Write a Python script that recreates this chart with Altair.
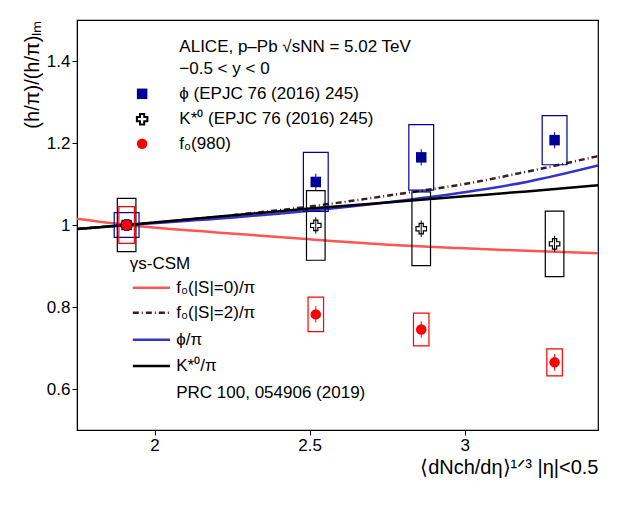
import altair as alt
import pandas as pd

# measured points
x_pts = [1.91, 2.52, 2.86, 3.29]
phi = [1.0, 1.105, 1.165, 1.207]
phi_sys = [0.03, 0.072, 0.08, 0.06]
kstar = [1.0, 0.999, 0.991, 0.954]
kstar_sys = [0.065, 0.085, 0.09, 0.08]
f0 = [1.0, 0.782, 0.745, 0.665]
f0_sys = [0.045, 0.042, 0.04, 0.033]
stat = [0.01, 0.02, 0.02, 0.02]

# model curves (gamma_s-CSM)
x_curve = [1.75, 1.91, 2.2, 2.5, 2.8, 3.0, 3.2, 3.43]
f0_s0 = [1.015, 1.0, 0.982, 0.965, 0.95, 0.943, 0.937, 0.931]
f0_s2 = [0.99, 1.0, 1.02, 1.045, 1.077, 1.1, 1.13, 1.168]
phi_c = [0.99, 1.0, 1.015, 1.035, 1.06, 1.08, 1.105, 1.145]
kstar_c = [0.99, 1.0, 1.02, 1.04, 1.058, 1.07, 1.082, 1.097]

XS = alt.Scale(domain=[1.75, 3.43], nice=False)
YS = alt.Scale(domain=[0.5, 1.5], nice=False)
FONT = "Liberation Sans"

def curve(vals, color, dash=None):
    df = pd.DataFrame({"x": x_curve, "y": vals})
    kw = dict(color=color, strokeWidth=2.5, interpolate="monotone", clip=True)
    if dash:
        kw["strokeDash"] = dash
    return alt.Chart(df).mark_line(**kw).encode(
        x=alt.X("x:Q", scale=XS), y=alt.Y("y:Q", scale=YS))

def points(vals, sys, color, shape, filled, half_w):
    df = pd.DataFrame({"x": x_pts, "y": vals})
    df["x1"] = df.x - half_w
    df["x2"] = df.x + half_w
    df["ylo"] = df.y - pd.Series(sys)
    df["yhi"] = df.y + pd.Series(sys)
    df["slo"] = df.y - pd.Series(stat)
    df["shi"] = df.y + pd.Series(stat)
    box = alt.Chart(df).mark_rect(fill=None, stroke=color, strokeWidth=1.2).encode(
        x=alt.X("x1:Q", scale=XS), x2="x2", y=alt.Y("ylo:Q", scale=YS), y2="yhi")
    err = alt.Chart(df).mark_rule(color=color).encode(
        x=alt.X("x:Q", scale=XS), y=alt.Y("slo:Q", scale=YS), y2="shi")
    pt = alt.Chart(df).mark_point(shape=shape, filled=filled, size=110, color=color,
                                  strokeWidth=1.2, opacity=1).encode(
        x=alt.X("x:Q", scale=XS), y=alt.Y("y:Q", scale=YS))
    return box + err + pt

base = alt.Chart(pd.DataFrame({"x": [1.75], "y": [0.5]})).mark_point(opacity=0).encode(
    x=alt.X("x:Q", scale=XS, title="⟨dNch/dη⟩¹ᐟ³ |η|<0.5",
            axis=alt.Axis(values=[2, 2.5, 3], format="~g", grid=False, titleAnchor="end",
                          titleFontSize=20, labelFontSize=17, titleFontWeight="normal")),
    y=alt.Y("y:Q", scale=YS, title="(h/π)/(h/π)ₗₘ",
            axis=alt.Axis(values=[0.6, 0.8, 1.0, 1.2, 1.4], format="~g", grid=False,
                          titleAnchor="end", titleFontSize=20, labelFontSize=17,
                          titleFontWeight="normal")))

# legend / annotation text
txt_x = [2.08, 2.08, 2.08, 2.08, 2.08, 1.92, 2.07, 2.07, 2.07, 2.07, 2.07]
txt_y = [1.435, 1.38, 1.32, 1.258, 1.198, 0.905, 0.847, 0.786, 0.72, 0.656, 0.59]
txt = ["ALICE, p–Pb √sNN = 5.02 TeV", "−0.5 < y < 0", "ϕ (EPJC 76 (2016) 245)",
       "K*⁰ (EPJC 76 (2016) 245)", "f₀(980)", "γs-CSM", "f₀(|S|=0)/π", "f₀(|S|=2)/π",
       "ϕ/π", "K*⁰/π", "PRC 100, 054906 (2019)"]
texts = alt.Chart(pd.DataFrame({"x": txt_x, "y": txt_y, "t": txt})).mark_text(
    align="left", baseline="middle", fontSize=17, font=FONT).encode(
    x=alt.X("x:Q", scale=XS), y=alt.Y("y:Q", scale=YS), text="t:N")

leg_x = [1.96, 1.96, 1.96]
leg_y = [1.32, 1.258, 1.198]
leg_shape = ["square", "cross", "circle"]
leg_col = ["#000099", "#000000", "#ff0000"]
leg_pts = alt.layer(*[
    alt.Chart(pd.DataFrame({"x": [leg_x[i]], "y": [leg_y[i]]})).mark_point(
        shape=leg_shape[i], filled=(i != 1), size=110, color=leg_col[i], opacity=1).encode(
        x=alt.X("x:Q", scale=XS), y=alt.Y("y:Q", scale=YS)) for i in range(3)])

line_y = [0.847, 0.786, 0.72, 0.656]
line_col = ["#ff5555", "#3b1e1e", "#3333cc", "#000000"]
line_dash = [None, [6, 3, 1, 3], None, None]
leg_lines = []
for yv, c, d in zip(line_y, line_col, line_dash):
    kw = dict(color=c, strokeWidth=2.5)
    if d:
        kw["strokeDash"] = d
    leg_lines.append(alt.Chart(pd.DataFrame({"x": [1.93], "x2": [2.05], "y": [yv]})).mark_rule(**kw).encode(
        x=alt.X("x:Q", scale=XS), x2="x2", y=alt.Y("y:Q", scale=YS)))

chart = alt.layer(
    base,
    curve(f0_s0, "#ff5555"),
    curve(f0_s2, "#3b1e1e", [6, 3, 1, 3]),
    curve(phi_c, "#3333cc"),
    curve(kstar_c, "#000000"),
    points(kstar, kstar_sys, "#000000", "cross", False, 0.03),
    points(phi, phi_sys, "#000099", "square", True, 0.04),
    points(f0, f0_sys, "#ff0000", "circle", True, 0.025),
    texts, leg_pts, *leg_lines,
).properties(
    width=521, height=410, autosize="none",
    padding={"left": 69, "top": 12, "right": 14, "bottom": 73},
).configure_view(stroke="black", strokeWidth=1.2).configure_axis(
    labelFont=FONT, titleFont=FONT, domainColor="black", tickColor="black",
    labelColor="black", titleColor="black")

chart.save("out.html", embed_options={"renderer": "svg", "actions": False})
